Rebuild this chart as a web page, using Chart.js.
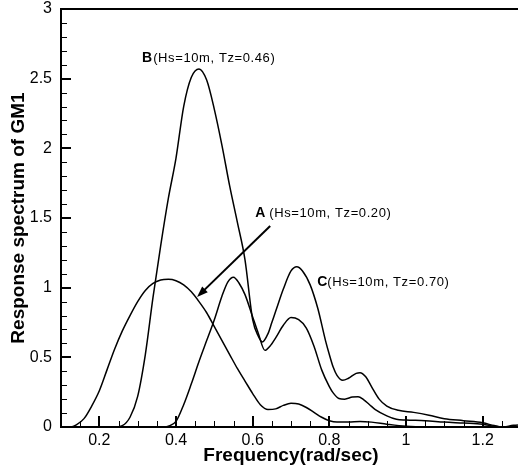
<!DOCTYPE html>
<html>
<head>
<meta charset="utf-8">
<script src="https://cdn.jsdelivr.net/npm/chart.js@4.4.1/dist/chart.umd.min.js"></script>
<style>
  html, body { margin: 0; padding: 0; background: #fff; overflow: hidden; }
  #wrap { width: 523px; height: 469px; position: relative; }
</style>
</head>
<body>
<div id="wrap"><canvas id="chart"></canvas></div>
<script>
// response spectra (frequency in rad/sec)
const freqA = [0.10, 0.125, 0.14, 0.16, 0.18, 0.20, 0.22, 0.24, 0.26, 0.28, 0.30, 0.32, 0.34, 0.36, 0.38, 0.40, 0.42, 0.44, 0.46, 0.48, 0.50, 0.52, 0.54, 0.56, 0.58, 0.60, 0.62, 0.64, 0.66, 0.68, 0.70, 0.72, 0.74, 0.76, 0.78, 0.80, 0.82, 0.85, 0.88, 0.91, 0.95, 1.00, 1.05, 1.30];
const respA = [0, 0, 0.015, 0.06, 0.15, 0.26, 0.41, 0.56, 0.69, 0.80, 0.90, 0.98, 1.03, 1.055, 1.06, 1.05, 1.02, 0.97, 0.90, 0.82, 0.72, 0.62, 0.52, 0.42, 0.33, 0.24, 0.16, 0.125, 0.13, 0.155, 0.17, 0.165, 0.14, 0.105, 0.07, 0.045, 0.035, 0.035, 0.04, 0.035, 0.02, 0.005, 0, 0];

const freqB = [0.10, 0.24, 0.26, 0.28, 0.30, 0.32, 0.34, 0.36, 0.38, 0.40, 0.42, 0.44, 0.46, 0.48, 0.50, 0.52, 0.54, 0.56, 0.58, 0.60, 0.615, 0.625, 0.64, 0.65, 0.66, 0.68, 0.70, 0.715, 0.73, 0.75, 0.77, 0.79, 0.80, 0.81, 0.82, 0.835, 0.85, 0.87, 0.88, 0.895, 0.91, 0.93, 0.95, 0.98, 1.02, 1.06, 1.10, 1.15, 1.20, 1.23, 1.25, 1.28, 1.30];
const respB = [0, 0, 0.01, 0.07, 0.22, 0.52, 0.93, 1.30, 1.64, 1.93, 2.30, 2.51, 2.57, 2.49, 2.28, 2.02, 1.73, 1.47, 1.20, 0.77, 0.65, 0.61, 0.67, 0.75, 0.83, 0.99, 1.12, 1.15, 1.12, 1.02, 0.85, 0.62, 0.52, 0.43, 0.37, 0.335, 0.35, 0.385, 0.39, 0.36, 0.29, 0.20, 0.15, 0.12, 0.105, 0.085, 0.06, 0.045, 0.03, 0.01, 0, 0.012, 0.015];

const freqC = [0.10, 0.37, 0.38, 0.40, 0.42, 0.44, 0.46, 0.48, 0.50, 0.52, 0.535, 0.55, 0.565, 0.58, 0.60, 0.615, 0.632, 0.645, 0.66, 0.68, 0.70, 0.72, 0.74, 0.76, 0.78, 0.80, 0.81, 0.825, 0.84, 0.86, 0.875, 0.89, 0.905, 0.92, 0.95, 0.975, 1.00, 1.05, 1.10, 1.15, 1.20, 1.23, 1.25, 1.30];
const respC = [0, 0, 0.005, 0.04, 0.16, 0.31, 0.47, 0.62, 0.77, 0.94, 1.04, 1.075, 1.03, 0.95, 0.79, 0.67, 0.55, 0.58, 0.64, 0.73, 0.785, 0.77, 0.71, 0.58, 0.41, 0.29, 0.245, 0.205, 0.20, 0.215, 0.218, 0.195, 0.16, 0.125, 0.08, 0.055, 0.05, 0.045, 0.035, 0.028, 0.02, 0.005, 0, 0];

const xTicks = [0.2, 0.4, 0.6, 0.8, 1, 1.2];
const yTicks = [0, 0.5, 1, 1.5, 2, 2.5, 3];

const FONT = '"Liberation Sans", Arial, sans-serif';

function pts(xs, ys) {
  return xs.map((x, i) => ({ x: x, y: ys[i] }));
}

function lineSet(label, xs, ys) {
  return {
    label: label,
    data: pts(xs, ys),
    showLine: true,
    borderColor: '#000',
    borderWidth: 1.5,
    pointRadius: 0,
    cubicInterpolationMode: 'monotone',
    fill: false
  };
}

// frame, inward ticks, curve labels and the arrow
const decorations = {
  id: 'decorations',
  afterDraw(chart) {
    const ctx = chart.ctx;
    const a = chart.chartArea;
    const xs = chart.scales.x, ys = chart.scales.y;
    ctx.save();
    ctx.strokeStyle = '#000';
    ctx.fillStyle = '#000';

    // minor ticks
    ctx.lineWidth = 1;
    ctx.beginPath();
    for (let v = 0.15; v < 1.3; v += 0.05) {
      const px = Math.round(xs.getPixelForValue(v)) + 0.5;
      ctx.moveTo(px, a.bottom);
      ctx.lineTo(px, a.bottom - 6);
    }
    for (let v = 0.1; v < 3; v += 0.1) {
      const py = Math.round(ys.getPixelForValue(v)) + 0.5;
      ctx.moveTo(a.left, py);
      ctx.lineTo(a.left + 6, py);
    }
    ctx.stroke();

    // major ticks
    ctx.lineWidth = 2;
    ctx.beginPath();
    xTicks.forEach(v => {
      const px = Math.round(xs.getPixelForValue(v));
      ctx.moveTo(px, a.bottom);
      ctx.lineTo(px, a.bottom - 11);
    });
    yTicks.forEach(v => {
      const py = Math.round(ys.getPixelForValue(v));
      ctx.moveTo(a.left, py);
      ctx.lineTo(a.left + 10, py);
    });
    ctx.stroke();

    // frame
    ctx.lineWidth = 2;
    ctx.beginPath();
    ctx.moveTo(a.left, a.top);
    ctx.lineTo(a.right, a.top);
    ctx.lineTo(a.right, a.bottom);
    ctx.lineTo(a.left, a.bottom);
    ctx.closePath();
    ctx.stroke();

    // curve labels
    const labels = [
      { key: 'B', text: '(Hs=10m, Tz=0.46)', x: 0.3115, y: 2.648, gap: 1 },
      { key: 'A', text: '(Hs=10m, Tz=0.20)', x: 0.6065, y: 1.536, gap: 4 },
      { key: 'C', text: '(Hs=10m, Tz=0.70)', x: 0.7684, y: 1.041, gap: 0 }
    ];
    ctx.textBaseline = 'middle';
    ctx.textAlign = 'left';
    labels.forEach(l => {
      const px = xs.getPixelForValue(l.x);
      const py = ys.getPixelForValue(l.y);
      ctx.font = 'bold 14px ' + FONT;
      ctx.letterSpacing = '0px';
      ctx.fillText(l.key, px, py);
      const w = ctx.measureText(l.key).width;
      ctx.font = '13px ' + FONT;
      ctx.letterSpacing = '0.6px';
      ctx.fillText(l.text, px + w + l.gap, py);
    });
    ctx.letterSpacing = '0px';

    // arrow pointing at curve A
    const x0 = xs.getPixelForValue(0.6457), y0 = ys.getPixelForValue(1.443);
    const x1 = xs.getPixelForValue(0.455), y1 = ys.getPixelForValue(0.933);
    const ang = Math.atan2(y1 - y0, x1 - x0);
    const head = 11, half = 4;
    ctx.lineWidth = 2;
    ctx.beginPath();
    ctx.moveTo(x0, y0);
    ctx.lineTo(x1 - Math.cos(ang) * head * 0.8, y1 - Math.sin(ang) * head * 0.8);
    ctx.stroke();
    ctx.beginPath();
    ctx.moveTo(x1, y1);
    ctx.lineTo(x1 - Math.cos(ang) * head - Math.sin(ang) * half, y1 - Math.sin(ang) * head + Math.cos(ang) * half);
    ctx.lineTo(x1 - Math.cos(ang) * head + Math.sin(ang) * half, y1 - Math.sin(ang) * head - Math.cos(ang) * half);
    ctx.closePath();
    ctx.fill();

    ctx.restore();
  }
};

new Chart(document.getElementById('chart'), {
  type: 'scatter',
  data: {
    datasets: [
      lineSet('A', freqA, respA),
      lineSet('B', freqB, respB),
      lineSet('C', freqC, respC)
    ]
  },
  options: {
    responsive: true,
    maintainAspectRatio: false,
    animation: false,
    layout: { padding: { top: 9, right: 2, left: 0, bottom: 0 } },
    plugins: { legend: { display: false }, tooltip: { enabled: false } },
    scales: {
      x: {
        type: 'linear',
        min: 0.1,
        max: 1.3,
        afterBuildTicks: s => { s.ticks = xTicks.map(v => ({ value: v })); },
        afterFit: s => { s.height = 42; s.paddingLeft = 0; s.paddingRight = 0; },
        grid: { display: false, drawTicks: false },
        border: { display: false },
        ticks: {
          padding: 4,
          color: '#000',
          font: { family: FONT, size: 16 },
          callback: v => String(v)
        },
        title: {
          display: true,
          text: 'Frequency(rad/sec)',
          color: '#000',
          font: { family: FONT, size: 19, weight: 'bold' },
          padding: { top: 0, bottom: 2 }
        }
      },
      y: {
        type: 'linear',
        min: 0,
        max: 3,
        afterBuildTicks: s => { s.ticks = yTicks.map(v => ({ value: v })); },
        afterFit: s => { s.width = 61; s.paddingTop = 0; s.paddingBottom = 0; },
        grid: { display: false, drawTicks: false },
        border: { display: false },
        ticks: {
          padding: 9,
          color: '#000',
          font: { family: FONT, size: 16 },
          callback: v => String(v)
        },
        title: {
          display: true,
          text: 'Response spectrum of GM1',
          color: '#000',
          font: { family: FONT, size: 19, weight: 'bold' },
          padding: { top: 7, bottom: 0 }
        }
      }
    }
  },
  plugins: [decorations]
});
</script>
</body>
</html>
